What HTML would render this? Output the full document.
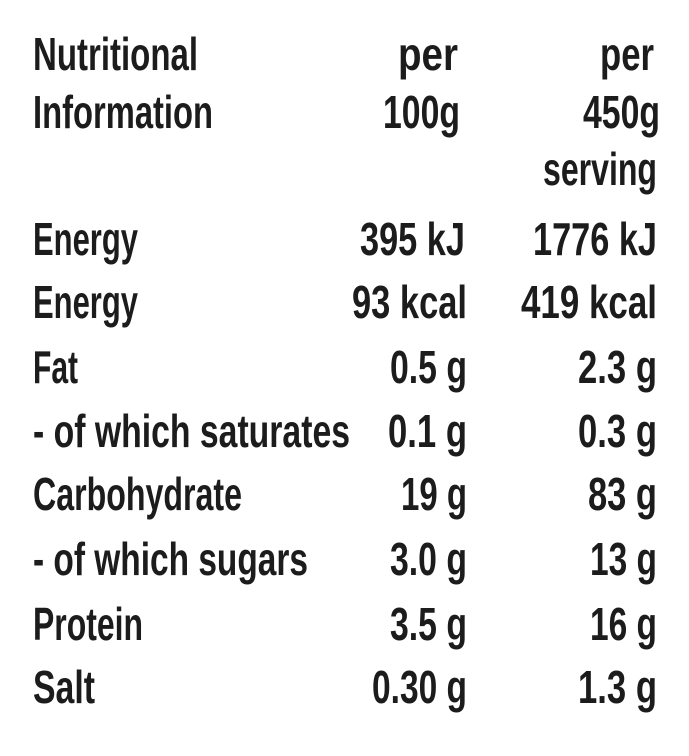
<!DOCTYPE html>
<html><head><meta charset="utf-8"><style>
html,body{margin:0;padding:0;background:#fff;width:689px;height:756px;overflow:hidden}
svg{display:block}
text{font-family:"Liberation Sans Narrow","Liberation Sans",sans-serif;font-weight:bold;font-size:46px;fill:#1c1c1c}
</style></head><body>
<svg width="689" height="756" viewBox="0 0 689 756">
<g lengthAdjust="spacingAndGlyphs">
<text x="33" y="70" textLength="165" lengthAdjust="spacingAndGlyphs">Nutritional</text>
<text x="398" y="70" textLength="60" lengthAdjust="spacingAndGlyphs">per</text>
<text x="600" y="70" textLength="54" lengthAdjust="spacingAndGlyphs">per</text>

<text x="33" y="128" textLength="180" lengthAdjust="spacingAndGlyphs">Information</text>
<text x="383" y="128" textLength="77" lengthAdjust="spacingAndGlyphs">100g</text>
<text x="583" y="128" textLength="77" lengthAdjust="spacingAndGlyphs">450g</text>

<text x="543" y="185" textLength="114" lengthAdjust="spacingAndGlyphs">serving</text>

<text x="33" y="255" textLength="105" lengthAdjust="spacingAndGlyphs">Energy</text>
<text x="360" y="255" textLength="105" lengthAdjust="spacingAndGlyphs">395 kJ</text>
<text x="533" y="255" textLength="124" lengthAdjust="spacingAndGlyphs">1776 kJ</text>

<text x="33" y="318" textLength="105" lengthAdjust="spacingAndGlyphs">Energy</text>
<text x="352" y="318" textLength="115" lengthAdjust="spacingAndGlyphs">93 kcal</text>
<text x="521" y="318" textLength="136" lengthAdjust="spacingAndGlyphs">419 kcal</text>

<text x="33" y="383" textLength="45" lengthAdjust="spacingAndGlyphs">Fat</text>
<text x="390" y="383" textLength="77" lengthAdjust="spacingAndGlyphs">0.5 g</text>
<text x="578" y="383" textLength="79" lengthAdjust="spacingAndGlyphs">2.3 g</text>

<text x="33" y="447" textLength="317" lengthAdjust="spacingAndGlyphs">- of which saturates</text>
<text x="388" y="447" textLength="79" lengthAdjust="spacingAndGlyphs">0.1 g</text>
<text x="578" y="447" textLength="79" lengthAdjust="spacingAndGlyphs">0.3 g</text>

<text x="33" y="510" textLength="209" lengthAdjust="spacingAndGlyphs">Carbohydrate</text>
<text x="401" y="510" textLength="66" lengthAdjust="spacingAndGlyphs">19 g</text>
<text x="588" y="510" textLength="69" lengthAdjust="spacingAndGlyphs">83 g</text>

<text x="33" y="575" textLength="275" lengthAdjust="spacingAndGlyphs">- of which sugars</text>
<text x="390" y="575" textLength="77" lengthAdjust="spacingAndGlyphs">3.0 g</text>
<text x="590" y="575" textLength="67" lengthAdjust="spacingAndGlyphs">13 g</text>

<text x="33" y="640" textLength="110" lengthAdjust="spacingAndGlyphs">Protein</text>
<text x="390" y="640" textLength="77" lengthAdjust="spacingAndGlyphs">3.5 g</text>
<text x="590" y="640" textLength="67" lengthAdjust="spacingAndGlyphs">16 g</text>

<text x="33" y="703" textLength="62" lengthAdjust="spacingAndGlyphs">Salt</text>
<text x="372" y="703" textLength="95" lengthAdjust="spacingAndGlyphs">0.30 g</text>
<text x="578" y="703" textLength="79" lengthAdjust="spacingAndGlyphs">1.3 g</text>
</g>
</svg>
</body></html>
